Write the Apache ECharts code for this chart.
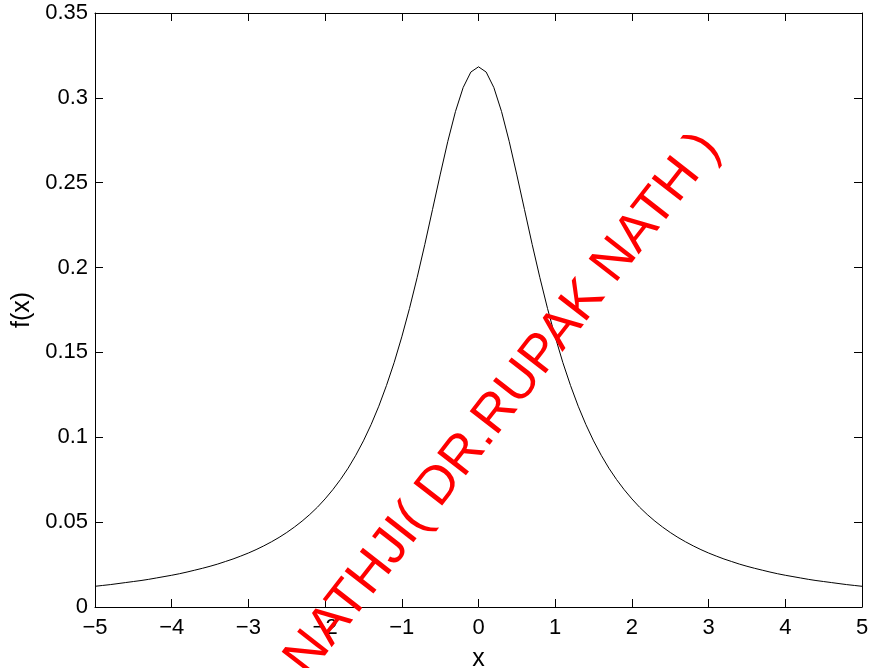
<!DOCTYPE html>
<html>
<head>
<meta charset="utf-8">
<script src="https://cdn.jsdelivr.net/npm/echarts@6/dist/echarts.min.js"></script>
<style>
  html, body { margin: 0; padding: 0; background: #fff; }
  #chart { width: 870px; height: 668px; }
</style>
</head>
<body>
<div id="chart"></div>
<script>
// Sample points of the density curve
var xs = [
  -5.0, -4.9, -4.8, -4.7, -4.6, -4.5, -4.4, -4.3, -4.2, -4.1,
  -4.0, -3.9, -3.8, -3.7, -3.6, -3.5, -3.4, -3.3, -3.2, -3.1,
  -3.0, -2.9, -2.8, -2.7, -2.6, -2.5, -2.4, -2.3, -2.2, -2.1,
  -2.0, -1.9, -1.8, -1.7, -1.6, -1.5, -1.4, -1.3, -1.2, -1.1,
  -1.0, -0.9, -0.8, -0.7, -0.6, -0.5, -0.4, -0.3, -0.2, -0.1,
  0.0,
  0.1, 0.2, 0.3, 0.4, 0.5, 0.6, 0.7, 0.8, 0.9, 1.0,
  1.1, 1.2, 1.3, 1.4, 1.5, 1.6, 1.7, 1.8, 1.9, 2.0,
  2.1, 2.2, 2.3, 2.4, 2.5, 2.6, 2.7, 2.8, 2.9, 3.0,
  3.1, 3.2, 3.3, 3.4, 3.5, 3.6, 3.7, 3.8, 3.9, 4.0,
  4.1, 4.2, 4.3, 4.4, 4.5, 4.6, 4.7, 4.8, 4.9, 5.0
];
var fx = [
  0.0122, 0.0127, 0.0132, 0.0138, 0.0144, 0.0150, 0.0156, 0.0163, 0.0171, 0.0179,
  0.0187, 0.0196, 0.0206, 0.0217, 0.0228, 0.0240, 0.0253, 0.0268, 0.0283, 0.0300,
  0.0318, 0.0338, 0.0360, 0.0384, 0.0410, 0.0439, 0.0471, 0.0506, 0.0545, 0.0588,
  0.0637, 0.0691, 0.0751, 0.0818, 0.0894, 0.0979, 0.1075, 0.1183, 0.1305, 0.1440,
  0.1592, 0.1759, 0.1941, 0.2136, 0.2341, 0.2546, 0.2744, 0.2920, 0.3061, 0.3152,
  0.3183,
  0.3152, 0.3061, 0.2920, 0.2744, 0.2546, 0.2341, 0.2136, 0.1941, 0.1759, 0.1592,
  0.1440, 0.1305, 0.1183, 0.1075, 0.0979, 0.0894, 0.0818, 0.0751, 0.0691, 0.0637,
  0.0588, 0.0545, 0.0506, 0.0471, 0.0439, 0.0410, 0.0384, 0.0360, 0.0338, 0.0318,
  0.0300, 0.0283, 0.0268, 0.0253, 0.0240, 0.0228, 0.0217, 0.0206, 0.0196, 0.0187,
  0.0179, 0.0171, 0.0163, 0.0156, 0.0150, 0.0144, 0.0138, 0.0132, 0.0127, 0.0122
];
var xTickLabels = ['\u22125', '\u22124', '\u22123', '\u22122', '\u22121', '0', '1', '2', '3', '4', '5'];
var yTickLabels = ['0', '0.05', '0.1', '0.15', '0.2', '0.25', '0.3', '0.35'];
var watermark = 'NATHJI( DR.RUPAK NATH )';

var FONT = '"Liberation Sans", Arial, Helvetica, sans-serif';
var points = xs.map(function (x, i) { return [x, fx[i]]; });

var chart = echarts.init(document.getElementById('chart'), null, { renderer: 'canvas' });

function boxAxis(extra) {
  return Object.assign({
    type: 'value',
    axisLine: { show: true, onZero: false, lineStyle: { color: '#000', width: 1 } },
    axisTick: { show: true, inside: true, length: 8, lineStyle: { color: '#000', width: 1 } },
    splitLine: { show: false }
  }, extra);
}

chart.setOption({
  animation: false,
  backgroundColor: '#fff',
  grid: { left: 95, right: 8, top: 13, bottom: 61, containLabel: false, outerBoundsMode: 'none' },
  xAxis: [
    boxAxis({
      min: -5, max: 5, interval: 1, position: 'bottom',
      name: 'x', nameLocation: 'middle', nameGap: 40,
      nameTextStyle: { color: '#000', fontSize: 25, fontFamily: FONT },
      axisLabel: {
        color: '#000', fontSize: 22, fontFamily: FONT, margin: 10,
        formatter: function (v) { return xTickLabels[Math.round(v + 5)]; }
      }
    }),
    boxAxis({ min: -5, max: 5, interval: 1, position: 'top', axisLabel: { show: false } })
  ],
  yAxis: [
    boxAxis({
      min: 0, max: 0.35, interval: 0.05, position: 'left',
      name: 'f(x)', nameLocation: 'middle', nameGap: 55, nameRotate: 90,
      nameTextStyle: { color: '#000', fontSize: 25, fontFamily: FONT },
      axisLabel: {
        color: '#000', fontSize: 22, fontFamily: FONT, margin: 7,
        formatter: function (v) { return yTickLabels[Math.round(v / 0.05)]; }
      }
    }),
    boxAxis({ min: 0, max: 0.35, interval: 0.05, position: 'right', axisLabel: { show: false } })
  ],
  series: [{
    type: 'line',
    data: points,
    xAxisIndex: 0,
    yAxisIndex: 0,
    showSymbol: false,
    smooth: false,
    silent: true,
    lineStyle: { color: '#000', width: 1 }
  }],
  graphic: [{
    type: 'text',
    x: 503,
    y: 404,
    rotation: 52 * Math.PI / 180,
    z: 100,
    style: {
      text: watermark,
      fill: '#ff0000',
      font: '53px ' + FONT,
      align: 'center',
      verticalAlign: 'middle'
    }
  }]
});
</script>
</body>
</html>
